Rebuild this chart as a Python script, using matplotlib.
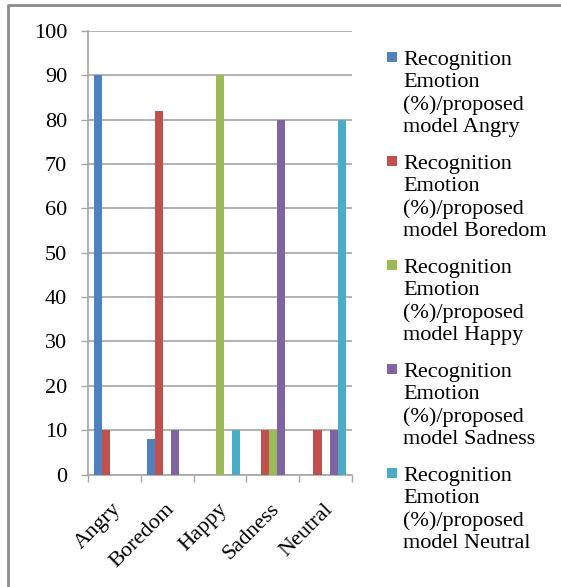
import matplotlib
matplotlib.use("Agg")
import matplotlib.pyplot as plt
from matplotlib.patches import Rectangle
from matplotlib.lines import Line2D
import numpy as np

categories = ["Angry", "Boredom", "Happy", "Sadness", "Neutral"]
series_names = [
    "Recognition\nEmotion\n(%)/proposed\nmodel Angry",
    "Recognition\nEmotion\n(%)/proposed\nmodel Boredom",
    "Recognition\nEmotion\n(%)/proposed\nmodel Happy",
    "Recognition\nEmotion\n(%)/proposed\nmodel Sadness",
    "Recognition\nEmotion\n(%)/proposed\nmodel Neutral",
]
angry_vals   = [90, 8, 0, 0, 0]
boredom_vals = [10, 82, 0, 10, 10]
happy_vals   = [0, 0, 90, 10, 0]
sadness_vals = [0, 10, 0, 80, 10]
neutral_vals = [0, 0, 10, 0, 80]
series_vals = [angry_vals, boredom_vals, happy_vals, sadness_vals, neutral_vals]
colors = ["#4F81BD", "#C0504D", "#9BBB59", "#8064A2", "#4BACC6"]
yticks = [0, 10, 20, 30, 40, 50, 60, 70, 80, 90, 100]

W, H = 561, 587
fig = plt.figure(figsize=(W / 100, H / 100), dpi=100)
fig.patch.set_facecolor("white")

serif = ["Liberation Serif", "DejaVu Serif"]

ax = fig.add_axes([88 / W, 1 - 474.5 / H, (352 - 88) / W, (474.5 - 31) / H])
n_ser = len(series_vals)
bw = 1 / 6.5
x = np.arange(len(categories))
for i, (vals, c) in enumerate(zip(series_vals, colors)):
    offs = (i - (n_ser - 1) / 2) * bw
    ax.bar(x + offs, vals, width=bw, color=c, zorder=3, linewidth=0)

ax.set_xlim(-0.5, len(categories) - 0.5)
ax.set_ylim(0, 100)
ax.set_yticks(yticks)
ax.set_yticklabels([str(t) for t in yticks], fontfamily=serif, fontsize=16)
ax.yaxis.grid(True, color="#A6A6A6", linewidth=1.2, zorder=0)
ax.set_axisbelow(True)
ax.tick_params(axis="y", length=5, width=1, color="#A6A6A6", pad=10)

ax.set_xticks(np.arange(len(categories) + 1) - 0.5)
ax.set_xticklabels([])
ax.tick_params(axis="x", length=5, width=1, color="#A6A6A6")
for xi, cat in zip(x, categories):
    ax.annotate(cat, xy=(xi, 0), xycoords=("data", "axes fraction"),
                xytext=(3, -23), textcoords="offset points",
                rotation=45, rotation_mode="anchor", ha="right", va="center",
                fontfamily=serif, fontsize=16)

for s in ["top", "right"]:
    ax.spines[s].set_visible(False)
for s in ["left", "bottom"]:
    ax.spines[s].set_color("#A6A6A6")
    ax.spines[s].set_linewidth(1.2)

# legend drawn manually
top0 = 58
step = 104
for i, (name, c) in enumerate(zip(series_names, colors)):
    yc = top0 + i * step
    fig.patches.append(Rectangle((387 / W, 1 - (yc + 4) / H), 10 / W, 10 / H,
                                 transform=fig.transFigure, facecolor=c,
                                 edgecolor="none"))
    fig.text(403 / W, 1 - (yc - 7) / H, name, ha="left", va="top",
             fontfamily=serif, fontsize=16, linespacing=1.22)

# chart border
fig.lines.append(Line2D([8 / W, 8 / W, 1.0], [0.0, 1 - 5 / H, 1 - 5 / H],
                        transform=fig.transFigure, color="#8C8C8C", linewidth=2))

fig.savefig("out.png", dpi=100, facecolor="white")
